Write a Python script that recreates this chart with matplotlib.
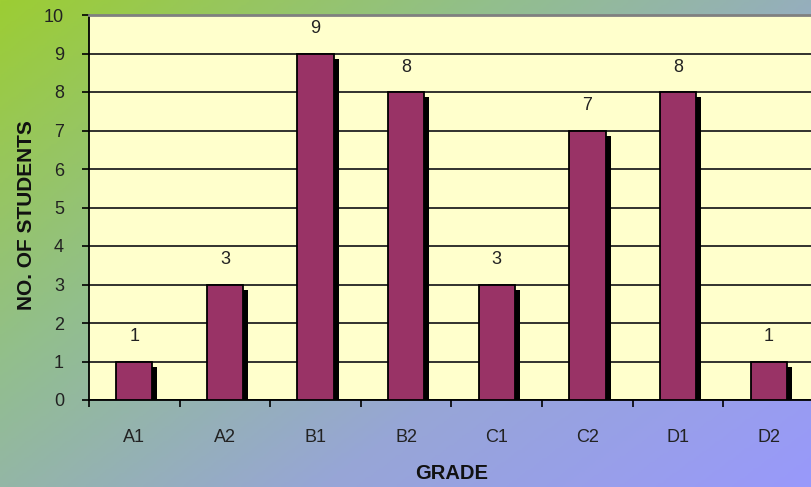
import numpy as np
import matplotlib
matplotlib.use("Agg")
import matplotlib.pyplot as plt
from matplotlib.colors import LinearSegmentedColormap

plt.rcParams['font.family'] = ['Liberation Sans', 'DejaVu Sans']

grades = ['A1', 'A2', 'B1', 'B2', 'C1', 'C2', 'D1', 'D2']
students = [1, 3, 9, 8, 3, 7, 8, 1]

fig = plt.figure(figsize=(8.12, 4.87), dpi=100)

# diagonal green -> blue background
bg = fig.add_axes([0, 0, 1, 1], zorder=-10)
gx, gy = np.meshgrid(np.linspace(0, 1, 300), np.linspace(0, 1, 200))
grad = (gx * 0.55 + gy * 0.45)
cmap = LinearSegmentedColormap.from_list(
    'bg', ['#9ccd34', '#92bf8c', '#97a6d6', '#9999fb'])
bg.imshow(grad, cmap=cmap, aspect='auto', extent=[0, 1, 0, 1], origin='upper')
bg.axis('off')

ax = fig.add_axes([89 / 812, 87 / 487, 725 / 812, 385 / 487])
ax.set_facecolor('#ffffcc')

x = np.arange(len(grades))
w = 0.4
# drop shadows
ax.bar(x + 0.055, students, width=w, bottom=-0.13, color='black', zorder=2)
ax.bar(x, students, width=w, color='#993366', edgecolor='black',
       linewidth=1.3, zorder=3)

for xi, v in zip(x, students):
    ax.text(xi, v + 0.42, str(v), ha='center', va='bottom', fontsize=13,
            color='#222222', zorder=4)

ax.set_xlim(-0.5, len(grades) - 0.5)
ax.set_ylim(0, 10)
ax.set_yticks(range(0, 11))
ax.yaxis.grid(True, color='#222222', linewidth=1.3)
ax.set_axisbelow(True)

ax.set_xticks(x)
ax.set_xticklabels(grades)
ax.set_xticks(np.arange(-0.5, len(grades), 1.0), minor=True)
ax.tick_params(axis='x', which='major', length=0, pad=21, labelsize=13,
               labelcolor='#222222')
ax.tick_params(axis='x', which='minor', length=5, width=1.2, direction='out')
ax.tick_params(axis='y', length=5, width=1.2, direction='out', pad=13,
               labelsize=13, labelcolor='#222222')

ax.spines['right'].set_visible(False)
ax.spines['top'].set_color('#808080')
ax.spines['top'].set_linewidth(2)
ax.spines['left'].set_linewidth(1.3)
ax.spines['bottom'].set_linewidth(1.3)

ax.set_ylabel('NO. OF STUDENTS', fontsize=15, fontweight='bold',
              color='#111111')
ax.set_xlabel('GRADE', fontsize=14.5, fontweight='bold', color='#111111')
ax.yaxis.set_label_coords(-53 / 725, 0.48)
ax.xaxis.set_label_coords(0.5, -64 / 385)

fig.savefig('out.png', dpi=100)
